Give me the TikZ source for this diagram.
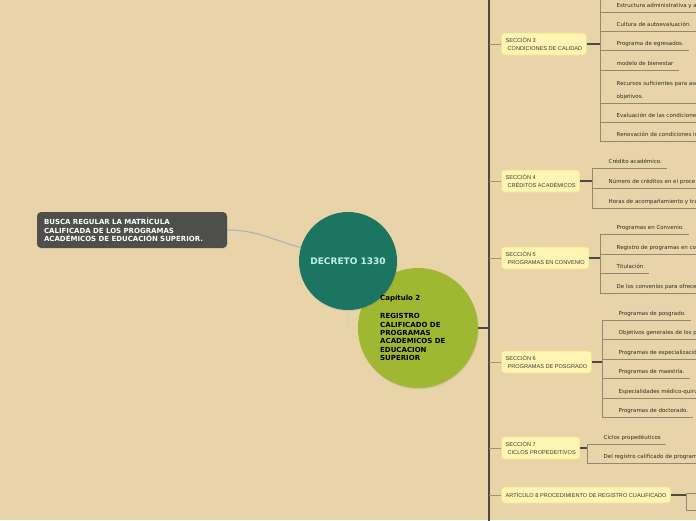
\documentclass[tikz,border=0pt]{standalone}
\usepackage{fontspec}
\setmainfont{DejaVu Sans}
\newfontfamily\secfont{Liberation Sans}
\usetikzlibrary{positioning, shadows}

\definecolor{bgtan}{HTML}{E8D4A8}
\definecolor{notegrey}{HTML}{4E4E4C}
\definecolor{deepteal}{HTML}{1B7561}
\definecolor{tealtext}{HTML}{C2F2E6}
\definecolor{capolive}{HTML}{A0B732}
\definecolor{secfill}{HTML}{FFF4B2}
\definecolor{secline}{HTML}{F3E48C}
\definecolor{secink}{HTML}{3C3A34}
\definecolor{leafink}{HTML}{2E2C28}
\definecolor{trunkgrey}{HTML}{4C4A46}
\definecolor{branchgrey}{HTML}{A39478}
\definecolor{twiggrey}{HTML}{958772}
\definecolor{linkgrey}{HTML}{D6CFC0}
\definecolor{tethergrey}{HTML}{A9B2BA}

\tikzset{
  leafbase/.style={anchor=south west, inner xsep=0pt, inner ysep=2.6pt, text depth=1.3pt,
    font=\fontsize{5.5}{6.6}\selectfont, text=leafink, align=left,
    execute at begin node={\hspace*{16.5pt}}, execute at end node={\hspace*{5pt}}},
  leaf/.style={leafbase, append after command={(\tikzlastnode.south west) edge[twig] (\tikzlastnode.south east)}},
  leafcut/.style={leafbase, append after command={(\tikzlastnode.south west) edge[twig] (\tikzlastnode.south west -| rim)}},
  twig/.style={draw=twiggrey, line width=0.8pt},
}

\begin{document}
\begin{tikzpicture}[x=1pt, y=-1pt,
    note/.style={rectangle, rounded corners=4pt, fill=notegrey, text=white, text width=176pt, align=left,
      inner xsep=7pt, inner ysep=6pt, font=\bfseries\fontsize{7}{8.6}\selectfont,
      drop shadow={opacity=0.2, shadow xshift=0.6pt, shadow yshift=-1.2pt}},
    decree/.style={circle, fill=deepteal, minimum size=98pt, inner sep=0pt, text=tealtext,
      font=\bfseries\fontsize{9}{10}\selectfont, drop shadow={opacity=0.2, shadow xshift=0.6pt, shadow yshift=-1.2pt}},
    chapter/.style={circle, fill=capolive, minimum size=120pt, inner sep=0pt,
      drop shadow={opacity=0.2, shadow xshift=0.6pt, shadow yshift=-1.2pt}},
    chaptext/.style={anchor=north west, inner sep=0pt, align=left, font=\bfseries\fontsize{7}{8.3}\selectfont},
    sect/.style={rectangle, rounded corners=3pt, fill=secfill, draw=secline, line width=0.8pt, anchor=west,
      minimum height=22pt, inner xsep=4.2pt, align=left, text=secink, font=\secfont\fontsize{5.6}{8.6}\selectfont},
    trunk/.style={draw=trunkgrey, line width=1.5pt},
    fork/.style={draw=trunkgrey, line width=1.4pt},
    branch/.style={draw=branchgrey, line width=0.9pt},
    link/.style={draw=linkgrey, line width=1pt, rounded corners=3pt},
    tether/.style={draw=tethergrey, line width=1.1pt}
]
\useasboundingbox (0,0) rectangle (696,520);
\fill[bgtan] (0,0) rectangle (696,520);

\coordinate (rim) at (706,0);
\coordinate (trunktop) at (489,-4);
\coordinate (trunkbot) at (489,524);
\coordinate (s3top) at (600,-4);

% centre
\node[note] (goal) at (132,230) {BUSCA REGULAR LA MATRÍCULA\\CALIFICADA DE LOS PROGRAMAS\\ACADÉMICOS DE EDUCACIÓN SUPERIOR.};
\node[chapter] (cap) at (418,328) {};
\node[decree] (dec) at (348,261) {DECRETO 1330};
\node[chaptext] (capt) at (380,295) {Capítulo 2\\[9.7pt]REGISTRO\\CALIFICADO DE\\PROGRAMAS\\ACADEMICOS DE\\EDUCACION\\SUPERIOR};

\draw[tether] (goal.east) to[out=0, in=165] (dec.164);
\draw[link] (dec.south) |- (cap.west);
\draw[trunk] (trunktop) -- (trunkbot);
\draw[trunk] (cap.east) -- (cap.east -| trunktop);

% sections
\node[sect] (s3) at (501,44) {SECCIÓN 3\\\hspace*{2pt}CONDICIONES DE CALIDAD};
\node[sect] (s4) at (501,181) {SECCIÓN 4\\\hspace*{2pt}CRÉDITOS ACADÉMICOS};
\node[sect] (s5) at (501,258) {SECCIÓN 5\\\hspace*{2pt}PROGRAMAS EN CONVENIO};
\node[sect] (s6) at (501,362) {SECCIÓN 6\\\hspace*{2pt}PROGRAMAS DE POSGRADO};
\node[sect] (s7) at (501,448) {SECCIÓN 7\\\hspace*{2pt}CICLOS PROPEDEITIVOS};
\node[sect, minimum height=16pt] (a8) at (501,495) {ARTÍCULO 8 PROCEDIMIENTO DE REGISTRO CUALIFICADO};

\foreach \s in {s3,s4,s5,s6,s7,a8}
  \draw[branch] (\s.west -| trunktop) -- (\s.west);

% seccion 3
\node[leafcut] (l31) at (600,12) {Estructura administrativa y a};
\node[leaf] (l32) at (600,31) {Cultura de autoevaluación.};
\node[leaf] (l33) at (600,50) {Programa de egresados.};
\node[leaf] (l34) at (600,70) {modelo de bienestar};
\node[leafcut] (l35) at (600,103) {Recursos suficientes para ase\\[6.4pt]objetivos.};
\node[leafcut] (l36) at (600,122) {Evaluación de las condiciones};
\node[leafcut] (l37) at (600,141) {Renovación de condiciones in};
\draw[twig] (s3top) -- (l37.south west);
\draw[fork] (s3.east) -- (s3.east -| l33.south west);

% seccion 4
\node[leaf] (l41) at (592,168) {Crédito académico.};
\node[leafcut] (l42) at (592,188) {Número de créditos en el proce};
\node[leafcut] (l43) at (592,208) {Horas de acompañamiento y tra};
\draw[twig] (l41.south west) -- (l43.south west);
\draw[fork] (s4.east) -- (s4.east -| l41.south west);

% seccion 5
\node[leaf] (l51) at (600,234) {Programas en Convenio.};
\node[leafcut] (l52) at (600,254) {Registro de programas en co};
\node[leaf] (l53) at (600,273) {Titulación};
\node[leafcut] (l54) at (600,293) {De los convenios para ofrece};
\draw[twig] (l51.south west) -- (l54.south west);
\draw[fork] (s5.east) -- (s5.east -| l51.south west);

% seccion 6
\node[leaf] (l61) at (602,320) {Programas de posgrado.};
\node[leafcut] (l62) at (602,339) {Objetivos generales de los p};
\node[leafcut] (l63) at (602,359) {Programas de especializació};
\node[leaf] (l64) at (602,378) {Programas de maestría.};
\node[leafcut] (l65) at (602,398) {Especialidades médico-quirú};
\node[leaf] (l66) at (602,417) {Programas de doctorado.};
\draw[twig] (l61.south west) -- (l66.south west);
\draw[fork] (s6.east) -- (s6.east -| l61.south west);

% seccion 7
\node[leaf] (l71) at (587,444) {Ciclos propedéuticos};
\node[leafcut] (l72) at (587,463) {Del registro calificado de programa};
\draw[twig] (l71.south west) -- (l72.south west);
\draw[fork] (s7.east) -- (s7.east -| l71.south west);

% articulo 8
\node[leafcut] (l81) at (686,493) {};
\node[leafcut] (l82) at (686,510) {};
\draw[twig] (l81.south west) -- (l82.south west);
\draw[fork] (a8.east) -- (a8.east -| l81.south west);
\end{tikzpicture}
\end{document}
